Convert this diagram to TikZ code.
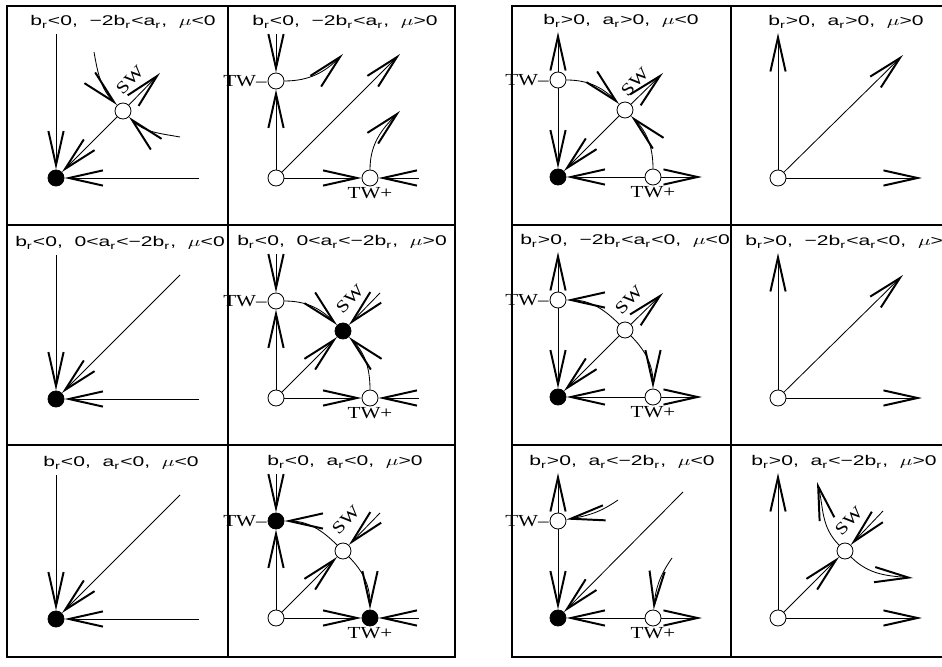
\documentclass[tikz,border=0pt]{standalone}
\usepackage{fontspec}
\setmainfont{Liberation Sans}
\newfontfamily\twfont{Liberation Serif}
\usepackage{graphicx}
\usetikzlibrary{arrows.meta,positioning}
\newcommand{\bsub}{b\textsubscript{r}}
\newcommand{\asub}{a\textsubscript{r}}
\newcommand{\wide}[1]{\scalebox{1.5}[1]{#1}}
\newcommand{\twide}[1]{\scalebox{1.25}[1]{#1}}
\tikzset{
  stab/.style={
    shape = circle,
    draw,
    fill = black,
    inner sep = 0pt,
    minimum size = 0.4cm,
    line width = 0.6pt
  },
  unstab/.style={
    shape = circle,
    draw,
    fill = white,
    inner sep = 0pt,
    minimum size = 0.4cm,
    line width = 0.6pt
  },
  traj/.style={
    line width = 0.6pt,
    -{Straight Barb[length=0.85cm, width=0.38cm, line width=1.4pt]}
  },
  frame/.style={
    line width = 1.2pt
  },
  cond/.style={
    anchor = base,
    inner sep = 0pt,
    font = \fontsize{10}{12}\selectfont
  },
  twlab/.style={
    inner sep = 0.5pt,
    font = \twfont\fontsize{12}{14}\selectfont
  },
  swlab/.style={
    rotate = 45,
    inner sep = 0pt,
    font = \twfont\fontsize{12}{14}\selectfont
  }
}
\begin{document}
\begin{tikzpicture}[x=0.025cm, y=0.025cm]
    \useasboundingbox (0,0) rectangle (942,666);
    % the two panels
    \foreach \xa/\xm/\xb in {7/228/455, 512/731/951}{
        \draw[frame] (\xa,9) rectangle (\xb,660);
        \draw[frame] (\xm,9) -- (\xm,660);
        \draw[frame] (\xa,221) -- (\xb,221);
        \draw[frame] (\xa,441) -- (\xb,441);
    }
    % row 1
    \begin{scope}[shift={(56,488)}]
        \node[stab] (o1) at (0,0) {};
        \node[unstab] (sw1) at (67,67) {};
        \coordinate (n1) at (0,144);
        \coordinate (e1) at (143,0);
        \coordinate (ne1) at (104,105);
        \coordinate (a1) at (38,126);
        \coordinate (b1) at (124,41);
        \draw[traj] (n1) -- (o1);
        \draw[traj] (e1) -- (o1);
        \draw[traj] (sw1) -- (o1);
        \draw[traj] (sw1) -- (ne1);
        \draw[traj] (a1) to[out=-80,in=135] (sw1);
        \draw[traj] (b1) to[out=170,in=-45] (sw1);
        \node[swlab] (l1) at (74,98) {\twide{SW}};
        \node[cond] (t1) at (67,152) {\wide{\bsub<0,\ \ −2\bsub<\asub,\ \ $\mu$<0}};
    \end{scope}
    \begin{scope}[shift={(276,488)}]
        \node[unstab] (o2) at (0,0) {};
        \node[unstab] (m2) at (0,97) {};
        \node[unstab] (p2) at (94,0) {};
        \coordinate (n2) at (0,144);
        \coordinate (e2) at (143,0);
        \coordinate (ne2) at (124,124);
        \coordinate (c2) at (67,124);
        \coordinate (d2) at (124,67);
        \draw[traj] (n2) -- (m2);
        \draw[traj] (o2) -- (m2);
        \draw[traj] (o2) -- (p2);
        \draw[traj] (e2) -- (p2);
        \draw[traj] (o2) -- (ne2);
        \draw[traj] (m2) to[out=0,in=225] (c2);
        \draw[traj] (p2) to[out=90,in=225] (d2);
        \node[twlab, left=0pt of m2] {\twide{TW–}};
        \node[twlab, below=0pt of p2] {\twide{TW+}};
        \node[cond] (t2) at (69,152) {\wide{\bsub<0,\ \ −2\bsub<\asub,\ \ $\mu$>0}};
    \end{scope}
    \begin{scope}[shift={(558,489)}]
        \node[stab] (o3) at (0,0) {};
        \node[unstab] (m3) at (0,97) {};
        \node[unstab] (p3) at (95,0) {};
        \node[unstab] (sw3) at (67,67) {};
        \coordinate (n3) at (0,145);
        \coordinate (e3) at (144,0);
        \coordinate (ne3) at (105,104);
        \draw[traj] (m3) -- (n3);
        \draw[traj] (m3) -- (o3);
        \draw[traj] (p3) -- (o3);
        \draw[traj] (p3) -- (e3);
        \draw[traj] (sw3) -- (o3);
        \draw[traj] (sw3) -- (ne3);
        \draw[traj] (m3) to[out=0,in=135] (sw3);
        \draw[traj] (p3) to[out=90,in=-45] (sw3);
        \node[twlab, left=0pt of m3] {\twide{TW–}};
        \node[twlab, below=0pt of p3] {\twide{TW+}};
        \node[swlab] (l3) at (77,95) {\twide{SW}};
        \node[cond] (t3) at (63,152) {\wide{\bsub>0,\ \ \asub>0,\ \ $\mu$<0}};
    \end{scope}
    \begin{scope}[shift={(778,488)}]
        \node[unstab] (o4) at (0,0) {};
        \coordinate (n4) at (0,145);
        \coordinate (e4) at (144,0);
        \coordinate (ne4) at (125,123);
        \draw[traj] (o4) -- (n4);
        \draw[traj] (o4) -- (e4);
        \draw[traj] (o4) -- (ne4);
        \node[cond] (t4) at (68,152) {\wide{\bsub>0,\ \ \asub>0,\ \ $\mu$>0}};
    \end{scope}
    % row 2
    \begin{scope}[shift={(56,267)}]
        \node[stab] (o5) at (0,0) {};
        \coordinate (n5) at (0,144);
        \coordinate (e5) at (143,0);
        \coordinate (ne5) at (124,124);
        \draw[traj] (n5) -- (o5);
        \draw[traj] (e5) -- (o5);
        \draw[traj] (ne5) -- (o5);
        \node[cond] (t5) at (64,152) {\wide{\bsub<0,\ \ 0<\asub<−2\bsub,\ \ $\mu$<0}};
    \end{scope}
    \begin{scope}[shift={(276,268)}]
        \node[unstab] (o6) at (0,0) {};
        \node[unstab] (m6) at (0,97) {};
        \node[unstab] (p6) at (94,0) {};
        \node[stab] (sw6) at (67,67) {};
        \coordinate (n6) at (0,144);
        \coordinate (e6) at (143,0);
        \coordinate (ne6) at (104,105);
        \draw[traj] (n6) -- (m6);
        \draw[traj] (o6) -- (m6);
        \draw[traj] (o6) -- (p6);
        \draw[traj] (e6) -- (p6);
        \draw[traj] (o6) -- (sw6);
        \draw[traj] (ne6) -- (sw6);
        \draw[traj] (m6) to[out=0,in=135] (sw6);
        \draw[traj] (p6) to[out=90,in=-45] (sw6);
        \node[twlab, left=0pt of m6] {\twide{TW–}};
        \node[twlab, below=0pt of p6] {\twide{TW+}};
        \node[swlab] (l6) at (74,99) {\twide{SW}};
        \node[cond] (t6) at (66,152) {\wide{\bsub<0,\ \ 0<\asub<−2\bsub,\ \ $\mu$>0}};
    \end{scope}
    \begin{scope}[shift={(558,269)}]
        \node[stab] (o7) at (0,0) {};
        \node[unstab] (m7) at (0,97) {};
        \node[unstab] (p7) at (95,0) {};
        \node[unstab] (sw7) at (67,67) {};
        \coordinate (n7) at (0,145);
        \coordinate (e7) at (144,0);
        \coordinate (ne7) at (105,104);
        \draw[traj] (m7) -- (n7);
        \draw[traj] (m7) -- (o7);
        \draw[traj] (p7) -- (o7);
        \draw[traj] (p7) -- (e7);
        \draw[traj] (sw7) -- (o7);
        \draw[traj] (sw7) -- (ne7);
        \draw[traj] (sw7) to[out=135,in=0] (m7);
        \draw[traj] (sw7) to[out=-45,in=90] (p7);
        \node[twlab, left=0pt of m7] {\twide{TW–}};
        \node[twlab, below=0pt of p7] {\twide{TW+}};
        \node[swlab] (l7) at (71,97) {\twide{SW}};
        \node[cond] (t7) at (67,152) {\wide{\bsub>0,\ \ −2\bsub<\asub<0,\ \ $\mu$<0}};
    \end{scope}
    \begin{scope}[shift={(778,268)}]
        \node[unstab] (o8) at (0,0) {};
        \coordinate (n8) at (0,145);
        \coordinate (e8) at (144,0);
        \coordinate (ne8) at (125,123);
        \draw[traj] (o8) -- (n8);
        \draw[traj] (o8) -- (e8);
        \draw[traj] (o8) -- (ne8);
        \node[cond, anchor=base west] (t8) at (-33,152) {\wide{\bsub>0,\ \ −2\bsub<\asub<0,\ \ $\mu$>0}};
    \end{scope}
    % row 3
    \begin{scope}[shift={(56,47)}]
        \node[stab] (o9) at (0,0) {};
        \coordinate (n9) at (0,144);
        \coordinate (e9) at (143,0);
        \coordinate (ne9) at (124,124);
        \draw[traj] (n9) -- (o9);
        \draw[traj] (e9) -- (o9);
        \draw[traj] (ne9) -- (o9);
        \node[cond] (t9) at (65,152) {\wide{\bsub<0,\ \ \asub<0,\ \ $\mu$<0}};
    \end{scope}
    \begin{scope}[shift={(276,48)}]
        \node[unstab] (o10) at (0,0) {};
        \node[stab] (m10) at (0,97) {};
        \node[stab] (p10) at (94,0) {};
        \node[unstab] (sw10) at (67,67) {};
        \coordinate (n10) at (0,144);
        \coordinate (e10) at (143,0);
        \coordinate (ne10) at (104,105);
        \draw[traj] (n10) -- (m10);
        \draw[traj] (o10) -- (m10);
        \draw[traj] (o10) -- (p10);
        \draw[traj] (e10) -- (p10);
        \draw[traj] (o10) -- (sw10);
        \draw[traj] (ne10) -- (sw10);
        \draw[traj] (sw10) to[out=135,in=0] (m10);
        \draw[traj] (sw10) to[out=-45,in=90] (p10);
        \node[twlab, left=0pt of m10] {\twide{TW–}};
        \node[twlab, below=0pt of p10] {\twide{TW+}};
        \node[swlab] (l10) at (70,98) {\twide{SW}};
        \node[cond] (t10) at (69,152) {\wide{\bsub<0,\ \ \asub<0,\ \ $\mu$>0}};
    \end{scope}
    \begin{scope}[shift={(558,48)}]
        \node[stab] (o11) at (0,0) {};
        \node[unstab] (m11) at (0,97) {};
        \node[unstab] (p11) at (95,0) {};
        \coordinate (n11) at (0,145);
        \coordinate (e11) at (144,0);
        \coordinate (ne11) at (125,126);
        \coordinate (c11) at (60,118);
        \coordinate (d11) at (114,60);
        \draw[traj] (m11) -- (n11);
        \draw[traj] (m11) -- (o11);
        \draw[traj] (p11) -- (o11);
        \draw[traj] (p11) -- (e11);
        \draw[traj] (ne11) -- (o11);
        \draw[traj] (c11) to[out=215,in=10] (m11);
        \draw[traj] (d11) to[out=235,in=85] (p11);
        \node[twlab, left=0pt of m11] {\twide{TW–}};
        \node[twlab, below=0pt of p11] {\twide{TW+}};
        \node[cond] (t11) at (64,152) {\wide{\bsub>0,\ \ \asub<−2\bsub,\ \ $\mu$<0}};
    \end{scope}
    \begin{scope}[shift={(778,48)}]
        \node[unstab] (o12) at (0,0) {};
        \node[unstab] (sw12) at (67,67) {};
        \coordinate (n12) at (0,145);
        \coordinate (e12) at (144,0);
        \coordinate (ne12) at (105,107);
        \coordinate (ul12) at (39,136);
        \coordinate (lr12) at (135,40);
        \draw[traj] (o12) -- (n12);
        \draw[traj] (o12) -- (e12);
        \draw[traj] (o12) -- (sw12);
        \draw[traj] (ne12) -- (sw12);
        \draw[traj] (sw12) to[out=135,in=-75] (ul12);
        \draw[traj] (sw12) to[out=-45,in=175] (lr12);
        \node[swlab] (l12) at (71,97) {\twide{SW}};
        \node[cond] (t12) at (66,152) {\wide{\bsub>0,\ \ \asub<−2\bsub,\ \ $\mu$>0}};
    \end{scope}
\end{tikzpicture}
\end{document}
